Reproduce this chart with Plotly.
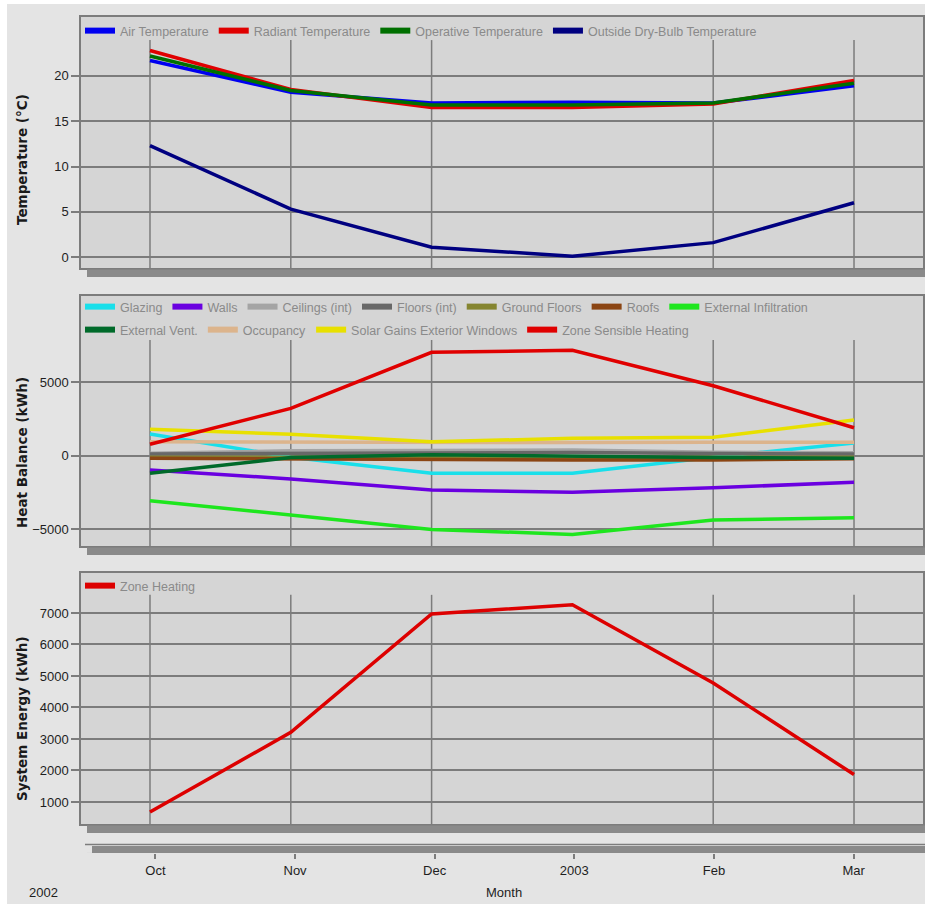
import plotly.graph_objects as go

# ---- data -----------------------------------------------------------------
months = ["Oct", "Nov", "Dec", "2003", "Feb", "Mar"]

# Temperatures (°C)
air_temp = [21.7, 18.2, 17.0, 17.1, 17.0, 18.9]
radiant_temp = [22.8, 18.5, 16.5, 16.5, 16.9, 19.5]
operative_temp = [22.2, 18.4, 16.8, 16.8, 17.0, 19.2]
outside_temp = [12.3, 5.3, 1.1, 0.1, 1.6, 6.0]

# Heat balance (kWh)
glazing = [1480, -100, -1200, -1200, -100, 860]
walls = [-970, -1580, -2330, -2490, -2180, -1810]
ceilings = [170, 330, 350, 390, 230, 200]
floors = [120, 150, 180, 220, 150, 120]
ground_floors = [-100, -120, -130, -130, -110, -100]
roofs = [-180, -230, -290, -300, -290, -200]
ext_infiltration = [-3060, -4035, -5010, -5350, -4375, -4220]
ext_vent = [-1200, -130, 60, -40, -120, -180]
occupancy = [950, 910, 900, 890, 910, 910]
solar_gains = [1800, 1460, 950, 1180, 1250, 2430]
zone_sensible = [780, 3220, 7030, 7170, 4760, 1900]

# System energy (kWh)
zone_heating = [680, 3210, 6970, 7260, 4780, 1870]

temp_ticks = [0, 5, 10, 15, 20]
heat_ticks = [-5000, 0, 5000]
energy_ticks = [1000, 2000, 3000, 4000, 5000, 6000, 7000]

# ---- styling --------------------------------------------------------------
W, H = 925, 904
GRID = "#7c7c7c"
SHADOW = "#8a8a8a"
NARROW = "Liberation Sans Narrow, Arial Narrow, Liberation Sans, Arial, sans-serif"
SANS = "Liberation Sans, Arial, sans-serif"
TITLE_FONT = dict(family="DejaVu Sans, Verdana, sans-serif", size=13.5, color="#1a1a1a", weight="bold")
TICK_FONT = dict(family=SANS, size=13, color="#1e1e1e")
LEGEND_FONT = dict(family=NARROW, size=12.5, color="#8a8a8a")
LINE_W = 3.5


def px_x(x):
    return x / W


def px_y(y):
    return 1 - y / H


X_DOM = [px_x(81), px_x(923)]
X_RANGE = [-0.49, 5.49]

panels = [
    # (axis suffix, top px, bottom px, y range, tick values, title, title centre px, grid top fraction)
    ("", 17, 268, [-1.2, 26.5], temp_ticks, "Temperature (°C)", 160, 0.908),
    ("2", 296, 546, [-6140, 10860], heat_ticks, "Heat Balance (kWh)", 453, 0.824),
    ("3", 573, 824, [300, 8270], energy_ticks, "System Energy (kWh)", 719, 0.913),
]

temp_series = [
    ("Air Temperature", air_temp, "#0000f0"),
    ("Radiant Temperature", radiant_temp, "#e00000"),
    ("Operative Temperature", operative_temp, "#007000"),
    ("Outside Dry-Bulb Temperature", outside_temp, "#000080"),
]
heat_row1 = [
    ("Glazing", glazing, "#19dfea"),
    ("Walls", walls, "#6a00e0"),
    ("Ceilings (int)", ceilings, "#a4a4a4"),
    ("Floors (int)", floors, "#686868"),
    ("Ground Floors", ground_floors, "#858530"),
    ("Roofs", roofs, "#8b4513"),
    ("External Infiltration", ext_infiltration, "#1ee61e"),
]
heat_row2 = [
    ("External Vent.", ext_vent, "#006a2a"),
    ("Occupancy", occupancy, "#dcb48c"),
    ("Solar Gains Exterior Windows", solar_gains, "#e8e000"),
    ("Zone Sensible Heating", zone_sensible, "#e00000"),
]
energy_series = [("Zone Heating", zone_heating, "#dd0000")]

fig = go.Figure()


def add_lines(series, xa, ya):
    for name, vals, color in series:
        fig.add_trace(go.Scatter(
            x=months, y=vals, name=name, mode="lines", xaxis=xa, yaxis=ya,
            line=dict(color=color, width=LINE_W), showlegend=False, hoverinfo="x+y+name",
        ))


def add_keys(series, xa, ya, legend_name):
    # legend-only entries with a thicker key line
    for name, vals, color in series:
        fig.add_trace(go.Scatter(
            x=[None], y=[None], name=name, mode="lines", xaxis=xa, yaxis=ya,
            line=dict(color=color, width=6), legend=legend_name, showlegend=True,
            hoverinfo="skip",
        ))


add_lines(temp_series, "x", "y")
add_keys(temp_series, "x", "y", "legend")

add_lines(heat_row1 + heat_row2, "x2", "y2")
add_keys(heat_row1, "x2", "y2", "legend2")
add_keys(heat_row2, "x2", "y2", "legend3")

add_lines(energy_series, "x3", "y3")
add_keys(energy_series, "x3", "y3", "legend4")

# carrier for the shared month axis strip at the bottom
fig.add_trace(go.Scatter(x=months, y=[None] * len(months), xaxis="x4", yaxis="y4",
                         mode="lines", showlegend=False, hoverinfo="skip"))

layout = dict(
    width=W, height=H, margin=dict(l=0, r=0, t=0, b=0),
    paper_bgcolor="#e4e4e4", plot_bgcolor="#d5d5d5",
    font=dict(family=SANS, size=13, color="#1e1e1e"),
    showlegend=True,
)

shapes = []
annotations = []
for suffix, top, bottom, yr, tv, title, title_c, grid_frac in panels:
    xa = "xaxis" + suffix
    ya = "yaxis" + suffix
    layout[xa] = dict(
        domain=X_DOM, anchor="y" + suffix, type="category",
        categoryorder="array", categoryarray=months, range=X_RANGE,
        showgrid=False, showticklabels=False, ticks="", zeroline=False,
        showline=True, mirror=True, linecolor=GRID, linewidth=1.5, fixedrange=True,
    )
    layout[ya] = dict(
        domain=[px_y(bottom), px_y(top)], anchor="x" + suffix, range=yr,
        tickvals=tv, showgrid=True, gridcolor=GRID, gridwidth=1.5, zeroline=False,
        ticks="outside", ticklen=8, tickwidth=1.5, tickcolor=GRID,
        showline=True, mirror=True, linecolor=GRID, linewidth=1.5,
        tickfont=TICK_FONT, fixedrange=True,
    )
    # vertical month grid lines, stopping short of the legend band
    for m in months:
        shapes.append(dict(
            type="line", xref="x" + suffix, yref="y" + suffix + " domain",
            x0=m, x1=m, y0=0, y1=grid_frac, line=dict(color=GRID, width=1.5), layer="below",
        ))
    # drop shadow under each panel
    shapes.append(dict(
        type="rect", xref="paper", yref="paper",
        x0=px_x(87), x1=1, y0=px_y(bottom + 9), y1=px_y(bottom + 1.5),
        fillcolor=SHADOW, line=dict(width=0), layer="above",
    ))
    annotations.append(dict(
        text=title, x=px_x(22), y=px_y(title_c), xref="paper", yref="paper",
        textangle=-90, showarrow=False, xanchor="center", yanchor="middle",
        font=TITLE_FONT,
    ))

# shared month axis strip
layout["xaxis4"] = dict(
    domain=[px_x(87), px_x(922)], anchor="y4", type="category",
    categoryorder="array", categoryarray=months, range=X_RANGE,
    showgrid=False, zeroline=False, showline=False,
    ticks="outside", ticklen=5, tickwidth=1.5, tickcolor=GRID,
    tickfont=TICK_FONT, fixedrange=True,
)
layout["yaxis4"] = dict(domain=[px_y(853), px_y(852.7)], anchor="x4", visible=False,
                        range=[0, 1], fixedrange=True)
shapes.append(dict(type="line", xref="paper", yref="paper",
                   x0=px_x(85), x1=1, y0=px_y(844.5), y1=px_y(844.5),
                   line=dict(color=GRID, width=1.5), layer="above"))
shapes.append(dict(type="rect", xref="paper", yref="paper",
                   x0=px_x(92), x1=1, y0=px_y(853), y1=px_y(846),
                   fillcolor=SHADOW, line=dict(width=0), layer="above"))

# thin white frame at the top-left edge of the canvas
shapes.append(dict(type="rect", xref="paper", yref="paper", x0=0, x1=px_x(7), y0=0, y1=1,
                   fillcolor="white", line=dict(width=0), layer="above"))
shapes.append(dict(type="rect", xref="paper", yref="paper", x0=0, x1=1, y0=px_y(4), y1=1,
                   fillcolor="white", line=dict(width=0), layer="above"))

annotations.append(dict(text="2002", x=px_x(43), y=px_y(892), xref="paper", yref="paper",
                        showarrow=False, xanchor="center", yanchor="middle", font=TICK_FONT))
annotations.append(dict(text="Month", x=px_x(504), y=px_y(892), xref="paper", yref="paper",
                        showarrow=False, xanchor="center", yanchor="middle", font=TICK_FONT))

legend_common = dict(
    orientation="h", xanchor="left", yanchor="middle", x=px_x(80),
    bgcolor="rgba(0,0,0,0)", borderwidth=0, font=LEGEND_FONT,
    itemwidth=30, itemclick=False, itemdoubleclick=False,
)
layout["legend"] = dict(legend_common, y=px_y(31))
layout["legend2"] = dict(legend_common, y=px_y(307))
layout["legend3"] = dict(legend_common, y=px_y(330))
layout["legend4"] = dict(legend_common, y=px_y(586))

layout["shapes"] = shapes
layout["annotations"] = annotations
fig.update_layout(**layout)

fig.write_html("out.html")
